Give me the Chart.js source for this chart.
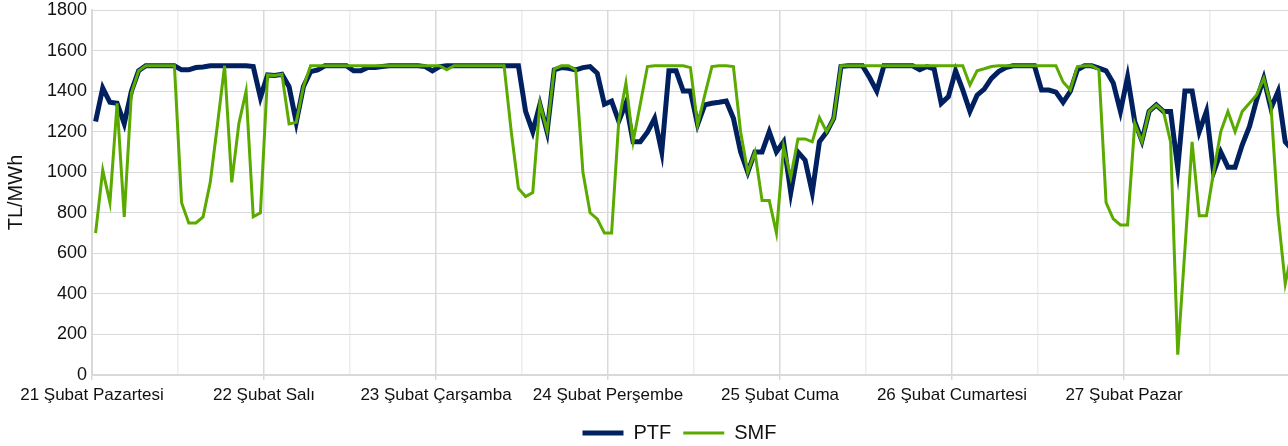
<!DOCTYPE html>
<html>
<head>
<meta charset="utf-8">
<script src="https://cdn.jsdelivr.net/npm/chart.js@4.4.1/dist/chart.umd.min.js"></script>
<style>
  html, body { margin: 0; padding: 0; background: #fff; overflow: hidden; }
  #wrap { position: relative; width: 1301px; height: 446px; }
</style>
</head>
<body>
<div id="wrap"><canvas id="myChart"></canvas></div>
<script>
// gunluk etiketler (her gun 24 saat)
const dayLabels = ['21 Şubat Pazartesi', '22 Şubat Salı', '23 Şubat Çarşamba', '24 Şubat Perşembe', '25 Şubat Cuma', '26 Şubat Cumartesi', '27 Şubat Pazar'];
const yTicks = [0, 200, 400, 600, 800, 1000, 1200, 1400, 1600, 1800];

// PTF saatlik (TL/MWh)
const ptf = [
  1250, 1415, 1345, 1340, 1240, 1400, 1500, 1525, 1525, 1525, 1525, 1525, 1505, 1505, 1516, 1519, 1525, 1525, 1525, 1525, 1525, 1525, 1521, 1368,
  1480, 1477, 1483, 1422, 1246, 1422, 1496, 1505, 1525, 1525, 1525, 1525, 1500, 1500, 1516, 1516, 1521, 1525, 1525, 1525, 1525, 1525, 1521, 1500,
  1521, 1525, 1525, 1525, 1525, 1525, 1525, 1525, 1525, 1525, 1525, 1525, 1300, 1200, 1335, 1200, 1505, 1516, 1513, 1505, 1516, 1521, 1488, 1335,
  1351, 1252, 1340, 1150, 1150, 1197, 1266, 1100, 1500, 1500, 1400, 1400, 1235, 1332, 1340, 1345, 1351, 1266, 1100, 1000, 1100, 1100, 1200, 1100,
  1150, 900, 1100, 1060, 900, 1150, 1197, 1266, 1521, 1525, 1525, 1525, 1467, 1400, 1525, 1525, 1525, 1525, 1525, 1505, 1521, 1510, 1340, 1373,
  1500, 1406, 1300, 1380, 1410, 1463, 1496, 1516, 1525, 1525, 1525, 1525, 1405, 1405, 1395, 1345, 1398, 1505, 1525, 1525, 1513, 1500, 1440, 1300,
  1470, 1250, 1155, 1300, 1332, 1300, 1300, 1020, 1400, 1400, 1200, 1300, 1000, 1100, 1025, 1025, 1135, 1225, 1356, 1463, 1315, 1398, 1150, 1110
];

// SMF saatlik (TL/MWh)
const smf = [
  700, 1010, 850, 1340, 780, 1390, 1500, 1525, 1525, 1525, 1525, 1525, 850, 750, 750, 780, 950, 1233, 1525, 950, 1241, 1400, 780, 800,
  1480, 1477, 1483, 1238, 1246, 1422, 1525, 1525, 1525, 1525, 1525, 1525, 1525, 1525, 1525, 1525, 1525, 1525, 1525, 1525, 1525, 1525, 1525, 1525,
  1525, 1505, 1525, 1525, 1525, 1525, 1525, 1525, 1525, 1525, 1200, 920, 880, 900, 1340, 1203, 1510, 1525, 1525, 1505, 1000, 800, 770, 700,
  700, 1250, 1440, 1150, 1335, 1521, 1525, 1525, 1525, 1525, 1525, 1516, 1233, 1380, 1521, 1525, 1525, 1521, 1200, 1000, 1100, 860, 860, 700,
  1126, 975, 1164, 1164, 1150, 1270, 1200, 1266, 1525, 1525, 1525, 1525, 1525, 1525, 1525, 1525, 1525, 1525, 1525, 1525, 1525, 1525, 1525, 1525,
  1525, 1525, 1430, 1500, 1510, 1521, 1525, 1525, 1525, 1525, 1525, 1525, 1525, 1525, 1525, 1445, 1405, 1521, 1525, 1525, 1505, 850, 770, 740,
  740, 1240, 1150, 1300, 1332, 1300, 1150, 100, 620, 1150, 785, 785, 1000, 1200, 1300, 1200, 1300, 1340, 1381, 1463, 1332, 790, 450, 620
];

// saat noktalari saat araliginin ortasina
function toPoints(arr) {
  return arr.map(function(v, i) { return {x: i + 0.5, y: v}; });
}

// legend'i biraz saga kaydir
const legendShift = {
  id: 'legendShift',
  afterLayout: function(chart) {
    if (chart.legend) {
      chart.legend.left += 29;
      chart.legend.right += 29;
    }
  }
};

const FONT = 'Liberation Sans, Arial, sans-serif';

const ctx = document.getElementById('myChart');
new Chart(ctx, {
  type: 'line',
  data: {
    datasets: [{
      label: 'PTF',
      data: toPoints(ptf),
      borderColor: '#002060',
      backgroundColor: '#002060',
      borderWidth: 5,
      pointRadius: 0,
      tension: 0,
      order: 1
    }, {
      label: 'SMF',
      data: toPoints(smf),
      borderColor: '#5aaa00',
      backgroundColor: '#5aaa00',
      borderWidth: 3,
      pointRadius: 0,
      tension: 0,
      order: 0
    }]
  },
  options: {
    responsive: true,
    maintainAspectRatio: false,
    animation: false,
    layout: { padding: { top: 0, right: 0, bottom: -7, left: 0 } },
    plugins: {
      tooltip: { enabled: false },
      legend: {
        position: 'bottom',
        labels: {
          usePointStyle: true,
          pointStyle: 'line',
          pointStyleWidth: 41,
          color: '#111',
          font: { family: FONT, size: 20 },
          padding: 12,
          sort: function(a, b) { return a.datasetIndex - b.datasetIndex; }
        }
      }
    },
    scales: {
      x: {
        type: 'linear',
        min: 0,
        max: 168,
        afterFit: function(s) { s.height = 36; },
        grid: {
          color: function(c) { return c.tick && c.tick.value % 24 === 0 ? '#d9d9d9' : '#ededed'; },
          tickColor: function(c) { return c.tick && c.tick.value % 24 === 0 ? '#d9d9d9' : 'rgba(0,0,0,0)'; },
          tickLength: 5,
          lineWidth: 1.5
        },
        border: { color: '#d9d9d9', width: 2 },
        ticks: {
          stepSize: 12,
          autoSkip: false,
          maxRotation: 0,
          minRotation: 0,
          padding: 5,
          color: '#111',
          font: { family: FONT, size: 17 },
          callback: function(v) {
            if (v % 24 !== 0) return '';
            return dayLabels[v / 24] || '';
          }
        }
      },
      y: {
        min: 0,
        max: 1800,
        afterFit: function(s) { s.width = 92; s.paddingTop = 10; },
        afterBuildTicks: function(s) { s.ticks = yTicks.map(function(v) { return {value: v}; }); },
        grid: { color: '#d9d9d9', lineWidth: 1, drawTicks: false },
        border: { color: '#d9d9d9', width: 2 },
        ticks: {
          padding: 5,
          color: '#111',
          font: { family: FONT, size: 18 },
          callback: function(v) { return String(v); }
        },
        title: {
          display: true,
          text: 'TL/MWh',
          color: '#111',
          padding: { top: 4, bottom: 0 },
          font: { family: FONT, size: 20 }
        }
      }
    }
  },
  plugins: [legendShift]
});
</script>
</body>
</html>
